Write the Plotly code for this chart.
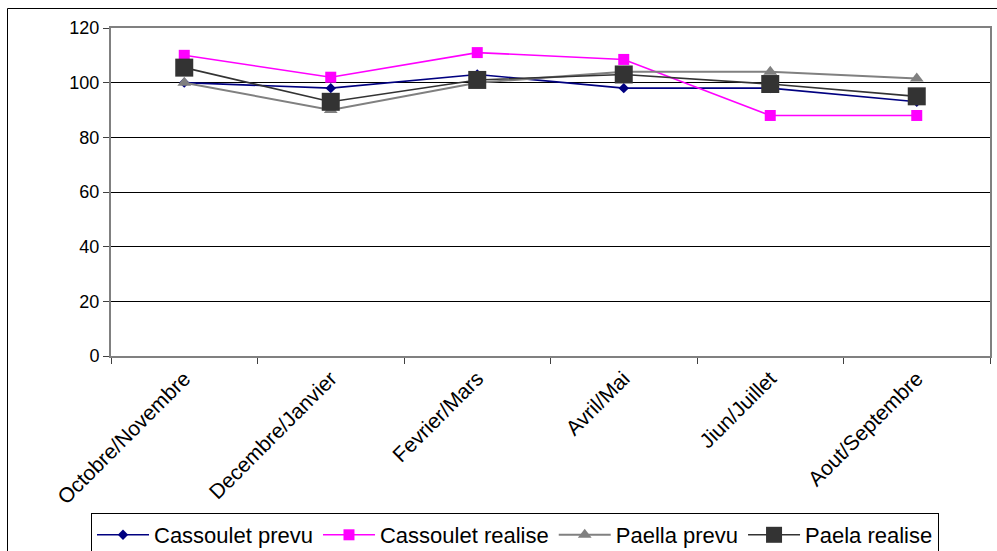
import plotly.graph_objects as go

# Periods (two months each)
periods = ["Octobre/Novembre", "Decembre/Janvier", "Fevrier/Mars",
           "Avril/Mai", "Jiun/Juillet", "Aout/Septembre"]

cassoulet_prevu = [100, 98, 103, 98, 98, 93]
cassoulet_realise = [110, 102, 111, 108.5, 88, 88]
paella_prevu = [100, 90, 100, 104, 104, 101.5]
paela_realise = [105.5, 93, 101, 103, 99.5, 95]

y_ticks = [0, 20, 40, 60, 80, 100, 120]

FONT = "Liberation Sans, Arial, sans-serif"

W, H = 997, 551
ML, MR, MT, MB = 111, 7, 28, 195
PW, PH = W - ML - MR, H - MT - MB


def px_x(p):
    return (p - ML) / PW


def px_y(p):
    return (H - MB - p) / PH


series = [
    ("Cassoulet prevu", cassoulet_prevu, "#000080", "diamond", 8, 1.6),
    ("Cassoulet realise", cassoulet_realise, "#FF00FF", "square", 11, 1.6),
    ("Paella prevu", paella_prevu, "#808080", "triangle-up", 12, 2),
    ("Paela realise", paela_realise, "#333333", "square", 18, 1.6),
]

fig = go.Figure()
for name, vals, color, sym, size, lw in series:
    fig.add_trace(go.Scatter(
        x=periods, y=vals, name=name, mode="lines+markers",
        line=dict(color=color, width=lw),
        marker=dict(symbol=sym, size=size, color=color, line=dict(width=0)),
    ))

# outer chart frame: only its top and left edges fall inside the page
frame = dict(type="line", xref="paper", yref="paper",
             line=dict(color="black", width=1), layer="below")
fig.add_shape(**frame, x0=px_x(7.5), x1=px_x(1000), y0=px_y(8.5), y1=px_y(8.5))
fig.add_shape(**frame, x0=px_x(7.5), x1=px_x(7.5), y0=px_y(8.5), y1=px_y(560))

fig.update_layout(
    width=W, height=H,
    margin=dict(l=ML, r=MR, t=MT, b=MB, autoexpand=False),
    paper_bgcolor="white", plot_bgcolor="white",
    font=dict(family=FONT, color="black"),
    showlegend=True,
    legend=dict(
        orientation="h", x=px_x(91), y=px_y(513),
        xanchor="left", yanchor="top",
        bordercolor="black", borderwidth=1, bgcolor="white",
        font=dict(size=22, family=FONT, color="black"),
        itemwidth=52, tracegroupgap=0,
    ),
    xaxis=dict(
        type="category", tickson="boundaries",
        ticks="outside", ticklen=6, tickcolor="#404040",
        tickangle=-45, tickfont=dict(size=21, family=FONT),
        showgrid=False, showline=True, linecolor="#808080", linewidth=2,
        mirror=True, range=[-0.5, 5.5], fixedrange=True, automargin=False,
    ),
    yaxis=dict(
        range=[0, 120], tickvals=y_ticks,
        ticks="outside", ticklen=6, tickcolor="#404040",
        tickfont=dict(size=18, family=FONT),
        showgrid=True, gridcolor="black", gridwidth=1,
        showline=True, linecolor="#808080", linewidth=2, mirror=True,
        zeroline=False, fixedrange=True, automargin=False,
    ),
)

fig.write_html("out.html")
